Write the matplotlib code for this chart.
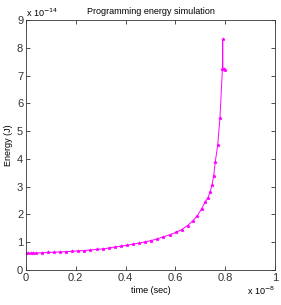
import matplotlib
matplotlib.use("Agg")
import matplotlib.pyplot as plt

# time in units of 1e-8 s, energy in units of 1e-14 J
time_s = [0.000, 0.010, 0.020, 0.030, 0.040, 0.064, 0.088, 0.112, 0.137, 0.161,
          0.186, 0.210, 0.235, 0.259, 0.284, 0.308, 0.333, 0.357, 0.382, 0.406,
          0.430, 0.454, 0.478, 0.503, 0.527, 0.551, 0.578, 0.601, 0.625, 0.649,
          0.669, 0.688, 0.705, 0.720, 0.731, 0.739, 0.747, 0.754, 0.760, 0.770,
          0.779, 0.789, 0.790, 0.791, 0.795, 0.800]
energy_j = [0.60, 0.60, 0.60, 0.61, 0.61, 0.62, 0.63, 0.64, 0.65, 0.66,
            0.67, 0.69, 0.70, 0.72, 0.74, 0.76, 0.79, 0.83, 0.86, 0.89,
            0.93, 0.97, 1.01, 1.06, 1.12, 1.19, 1.27, 1.35, 1.45, 1.60,
            1.76, 1.95, 2.20, 2.45, 2.60, 2.80, 3.05, 3.40, 3.87, 4.50,
            5.46, 7.25, 8.30, 7.25, 7.22, 7.20]

xticks = [0, 0.2, 0.4, 0.6, 0.8, 1]
xtick_labels = ["0", "0.2", "0.4", "0.6", "0.8", "1"]
yticks = list(range(10))

plt.rcParams['font.family'] = ['Liberation Sans', 'DejaVu Sans']

fig = plt.figure(figsize=(2.81, 3.05), dpi=100)
ax = fig.add_axes([0.0925, 0.1148, 0.886, 0.8197])

ax.plot(time_s, energy_j, color='#FF00FF', linewidth=0.7, marker='*',
        markersize=2.5, markeredgewidth=0.5)

ax.set_xlim(0, 1)
ax.set_ylim(0, 9)
ax.set_xticks(xticks)
ax.set_xticklabels(xtick_labels)
ax.set_yticks(yticks)
ax.tick_params(direction='in', top=True, right=True, length=3, width=0.6,
               labelsize=8, labelcolor='#333333', color='#333333', pad=2)
for s in ax.spines.values():
    s.set_linewidth(0.6)
    s.set_color('#333333')

ax.set_title("Programming energy simulation", fontsize=6.5, pad=4)
ax.set_xlabel("time (sec)", fontsize=6.5, labelpad=2)
ax.set_ylabel("Energy (J)", fontsize=6.5, labelpad=3)

ax.text(0.0, 1.005, "x 10$^{-14}$", transform=ax.transAxes, fontsize=6.5,
        ha='left', va='bottom')
ax.text(1.0, -0.06, "x 10$^{-8}$", transform=ax.transAxes, fontsize=6.5,
        ha='right', va='top')

fig.savefig("out.png", dpi=100)
